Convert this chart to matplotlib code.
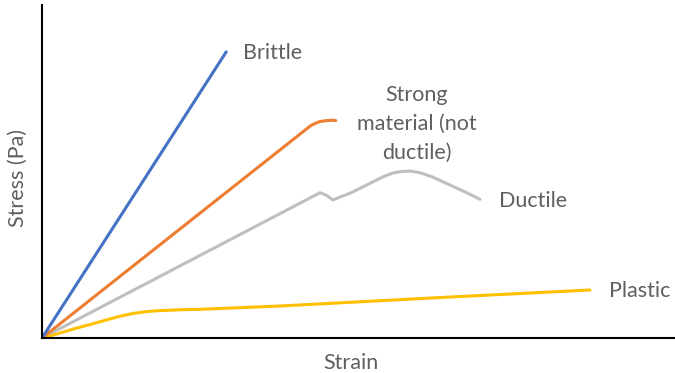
import matplotlib.pyplot as plt
import numpy as np

plt.rcParams['font.family'] = ['Lato', 'DejaVu Sans']

# stress-strain curves (arbitrary units)
brittle_x = [0, 2.91]
brittle_y = [0, 8.59]

strong_x = [0, 4.24, 4.32, 4.39, 4.50, 4.57, 4.64]
strong_y = [0, 6.37, 6.45, 6.50, 6.53, 6.54, 6.53]

ductile_x = [0, 4.392, 4.487, 4.597, 4.708, 4.866, 5.130, 5.392, 5.545, 5.656, 5.814,
             5.972, 6.182, 6.445, 6.709, 6.919]
ductile_y = [0, 4.363, 4.294, 4.144, 4.234, 4.345, 4.595, 4.844, 4.955, 4.994, 5.015,
             4.964, 4.826, 4.595, 4.363, 4.165]

plastic_x = [0, 0.253, 0.494, 0.758, 1.022, 1.232, 1.442, 1.642, 1.812, 2.180, 2.496,
             3.760, 6.446, 8.657]
plastic_y = [0, 0.130, 0.270, 0.405, 0.545, 0.655, 0.738, 0.790, 0.818, 0.848, 0.862,
             0.961, 1.231, 1.441]

fig = plt.figure(figsize=(6.75, 3.73), dpi=100)
ax = fig.add_axes([0.0622, 0.0938, 0.9378, 0.8928])

lw = 2.2
style = dict(lw=lw, solid_capstyle='round', solid_joinstyle='round')
ax.plot(ductile_x, ductile_y, color='#BFBFBF', **style)
ax.plot(plastic_x, plastic_y, color='#FFC000', **style)
ax.plot(strong_x, strong_y, color='#ED7D31', **style)
ax.plot(brittle_x, brittle_y, color='#4472C4', **style)

txt = dict(color='#5F5F5F', fontsize=15.5)
ax.text(3.17, 8.56, 'Brittle', ha='left', va='center', **txt)
ax.text(5.92, 6.43, 'Strong\nmaterial (not\nductile)', ha='center', va='center', linespacing=1.55, **txt)
ax.text(7.22, 4.10, 'Ductile', ha='left', va='center', **txt)
ax.text(8.96, 1.41, 'Plastic', ha='left', va='center', **txt)

ax.set_xlim(0, 10)
ax.set_ylim(0, 10)
ax.set_xticks([])
ax.set_yticks([])
for s in ['top', 'right']:
    ax.spines[s].set_visible(False)
for s in ['left', 'bottom']:
    ax.spines[s].set_linewidth(1.5)
    ax.spines[s].set_color('black')

ax.text(0.488, -0.075, 'Strain', transform=ax.transAxes, ha='center', va='center', **txt)
ax.text(-0.038, 0.48, 'Stress (Pa)', transform=ax.transAxes, ha='center', va='center',
        rotation=90, **txt)

fig.savefig('out.png', dpi=100)
